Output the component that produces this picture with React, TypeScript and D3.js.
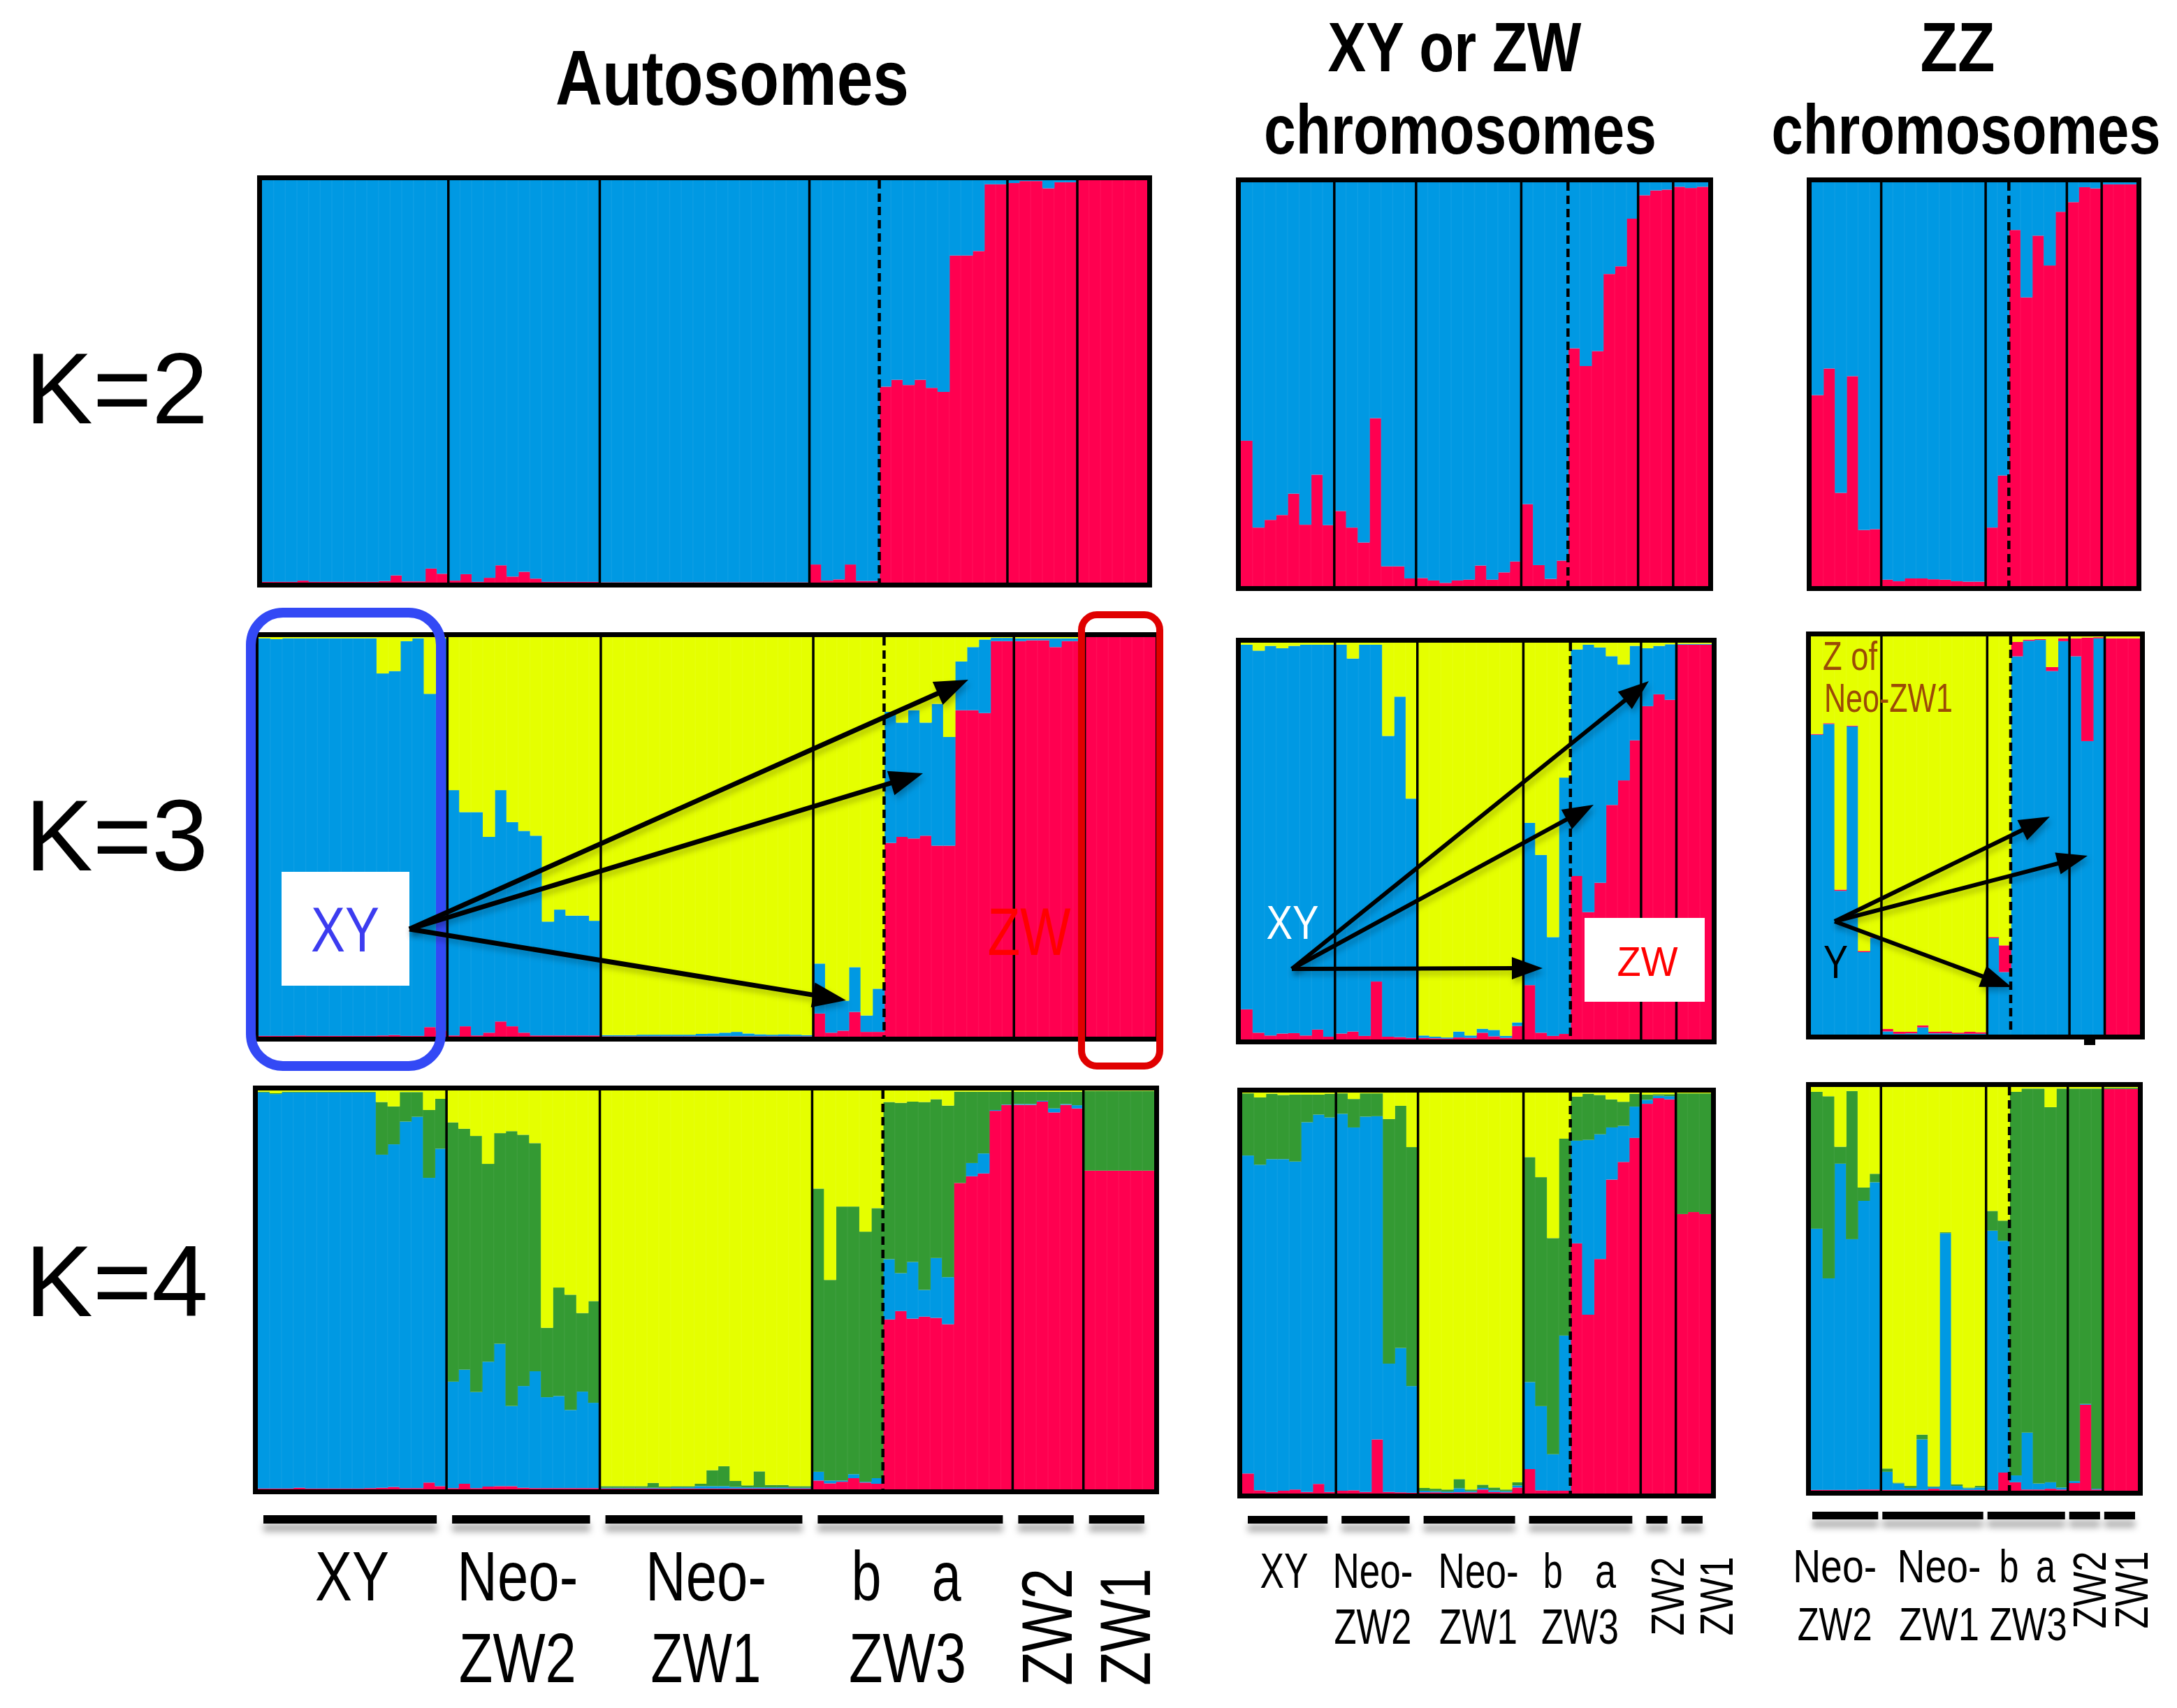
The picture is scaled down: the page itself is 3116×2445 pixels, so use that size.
import React from "react";
import * as d3 from "d3";

// cluster colours
const BLUE = "#0099e3";
const RED = "#ff0050";
const YELLOW = "#e5ff00";
const GREEN = "#349a33";

// populations (individuals per population, in plot order)
const AUTO_GROUPS = ["XY", "Neo-ZW2", "Neo-ZW1", "ZW3b", "ZW3a", "ZW2", "ZW1"];
const AUTO_SIZES = [16, 13, 18, 6, 11, 6, 6];
const XYZW_GROUPS = ["XY", "Neo-ZW2", "Neo-ZW1", "ZW3b", "ZW3a", "ZW2", "ZW1"];
const XYZW_SIZES = [8, 7, 9, 4, 6, 3, 3];
const ZZ_GROUPS = ["Neo-ZW2", "Neo-ZW1", "ZW3b", "ZW3a", "ZW2", "ZW1"];
const ZZ_SIZES = [6, 9, 2, 5, 3, 3];

const K_LABELS = ["K=2", "K=3", "K=4"];

// ---------- Autosomes ----------
const AUTO_K2_RED = [
  0.002, 0.002, 0.002, 0.005, 0.002, 0.002, 0.002, 0.002, 0.002, 0.002, 0.004, 0.018, 0.003, 0.003, 0.035, 0.022,
  0.005, 0.021, 0.002, 0.012, 0.043, 0.015, 0.027, 0.01, 0.002, 0.002, 0.002, 0.002, 0.002,
  0.001, 0.001, 0.001, 0.001, 0.001, 0.001, 0.001, 0.001, 0.001, 0.001, 0.001, 0.001, 0.001, 0.001, 0.001, 0.001, 0.001, 0.001,
  0.045, 0.005, 0.008, 0.045, 0.004, 0.004,
  0.487, 0.504, 0.491, 0.504, 0.484, 0.474, 0.813, 0.813, 0.824, 0.99, 0.99,
  0.993, 0.998, 0.998, 0.98, 0.995, 0.995,
  1, 1, 1, 1, 1, 1,
];

const AUTO_K3_RED = [
  0.002, 0.002, 0.002, 0.003, 0.002, 0.002, 0.002, 0.002, 0.002, 0.002, 0.003, 0.004, 0.002, 0.002, 0.024, 0.015,
  0.003, 0.026, 0.003, 0.01, 0.038, 0.026, 0.01, 0.003, 0.003, 0.003, 0.003, 0.003, 0.003,
  0.001, 0.001, 0.001, 0.001, 0.001, 0.001, 0.001, 0.001, 0.001, 0.001, 0.001, 0.001, 0.001, 0.001, 0.001, 0.001, 0.001, 0.001,
  0.058, 0.01, 0.015, 0.062, 0.012, 0.012,
  0.485, 0.5, 0.496, 0.503, 0.478, 0.478, 0.817, 0.817, 0.81, 0.99, 0.99,
  0.99, 0.992, 0.992, 0.975, 0.99, 0.99,
  1, 1, 1, 1, 1, 1,
];
const AUTO_K3_YELLOW = [
  0.003, 0.005, 0.003, 0.003, 0.003, 0.003, 0.003, 0.003, 0.003, 0.003, 0.091, 0.085, 0.01, 0.003, 0.142, 0.003,
  0.383, 0.438, 0.438, 0.5, 0.383, 0.463, 0.485, 0.497, 0.712, 0.682, 0.697, 0.697, 0.71,
  0.996, 0.996, 0.996, 0.995, 0.995, 0.995, 0.995, 0.995, 0.993, 0.992, 0.99, 0.988, 0.992, 0.994, 0.995, 0.994, 0.995, 0.996,
  0.817, 0.9, 0.91, 0.826, 0.947, 0.88,
  0.187, 0.214, 0.183, 0.214, 0.167, 0.25, 0.061, 0.025, 0.006, 0.002, 0.002,
  0.003, 0.003, 0.003, 0.003, 0.003, 0.003,
  0, 0, 0, 0, 0, 0,
];

const AUTO_K4_RED = [
  0.002, 0.002, 0.002, 0.004, 0.002, 0.002, 0.002, 0.002, 0.002, 0.003, 0.004, 0.006, 0.003, 0.003, 0.017, 0.008,
  0.003, 0.014, 0.003, 0.007, 0.008, 0.008, 0.004, 0.003, 0.003, 0.003, 0.003, 0.003, 0.003,
  0.002, 0.002, 0.002, 0.002, 0.002, 0.002, 0.002, 0.002, 0.002, 0.002, 0.002, 0.002, 0.002, 0.002, 0.002, 0.002, 0.002, 0.002,
  0.022, 0.015, 0.019, 0.028, 0.017, 0.014,
  0.426, 0.447, 0.428, 0.433, 0.43, 0.414, 0.768, 0.785, 0.792, 0.949, 0.964,
  0.964, 0.964, 0.972, 0.945, 0.964, 0.955,
  0.799, 0.799, 0.799, 0.799, 0.799, 0.799,
];
const AUTO_K4_BLUE = [
  0.993, 0.989, 0.993, 0.991, 0.993, 0.993, 0.993, 0.993, 0.993, 0.992, 0.835, 0.859, 0.919, 0.931, 0.764, 0.846,
  0.267, 0.286, 0.241, 0.313, 0.357, 0.201, 0.255, 0.293, 0.228, 0.231, 0.196, 0.242, 0.214,
  0.002, 0.002, 0.002, 0.002, 0.002, 0.002, 0.003, 0.003, 0.006, 0.006, 0.006, 0.004, 0.003, 0.003, 0.003, 0.003, 0.002, 0.002,
  0.022, 0.007, 0.003, 0.01, 0.002, 0.014,
  0.151, 0.095, 0.142, 0.067, 0.15, 0.118, 0, 0.033, 0.05, 0.002, 0.001,
  0.002, 0.002, 0.002, 0.01, 0.002, 0.008,
  0, 0, 0, 0, 0, 0,
];
const AUTO_K4_GREEN = [
  0.002, 0.002, 0.002, 0.002, 0.002, 0.002, 0.002, 0.002, 0.002, 0.002, 0.132, 0.095, 0.074, 0.062, 0.17, 0.125,
  0.65, 0.604, 0.642, 0.496, 0.528, 0.689, 0.63, 0.572, 0.174, 0.272, 0.289, 0.197, 0.255,
  0.004, 0.004, 0.004, 0.004, 0.012, 0.003, 0.003, 0.003, 0.006, 0.04, 0.05, 0.015, 0.005, 0.04, 0.006, 0.006, 0.004, 0.004,
  0.71, 0.503, 0.687, 0.671, 0.627, 0.677,
  0.394, 0.427, 0.402, 0.471, 0.398, 0.43, 0.229, 0.179, 0.155, 0.046, 0.032,
  0.031, 0.031, 0.023, 0.042, 0.031, 0.034,
  0.2, 0.2, 0.2, 0.2, 0.2, 0.2,
];

// ---------- XY or ZW chromosomes ----------
const XYZW_K2_RED = [
  0.36, 0.145, 0.164, 0.176, 0.229, 0.152, 0.276, 0.151,
  0.186, 0.145, 0.108, 0.416, 0.049, 0.049, 0.019,
  0.02, 0.014, 0.008, 0.014, 0.016, 0.051, 0.016, 0.034, 0.061,
  0.203, 0.052, 0.018, 0.063,
  0.589, 0.545, 0.582, 0.773, 0.792, 0.91,
  0.968, 0.98, 0.982,
  0.989, 0.986, 0.989,
];
const XYZW_K3_RED = [
  0.076, 0.017, 0.01, 0.015, 0.016, 0.01, 0.025, 0.007,
  0.015, 0.02, 0.009, 0.146, 0.007, 0.006, 0.004,
  0.004, 0.003, 0.002, 0.005, 0.004, 0.017, 0.008, 0.004, 0.034,
  0.137, 0.017, 0.009, 0.014,
  0.412, 0.321, 0.395, 0.591, 0.653, 0.754,
  0.84, 0.87, 0.856,
  0.995, 0.995, 0.995,
];
const XYZW_K3_BLUE = [
  0.919, 0.963, 0.982, 0.971, 0.976, 0.985, 0.97, 0.988,
  0.98, 0.94, 0.986, 0.849, 0.758, 0.858, 0.603,
  0.006, 0.004, 0.003, 0.015, 0.006, 0.01, 0.016, 0.005, 0.009,
  0.409, 0.448, 0.249, 0.646,
  0.571, 0.674, 0.593, 0.375, 0.292, 0.238,
  0.146, 0.122, 0.14,
  0.002, 0.002, 0.002,
];
const XYZW_K4_RED = [
  0.05, 0.008, 0.004, 0.007, 0.01, 0.004, 0.024, 0.004,
  0.007, 0.008, 0.004, 0.135, 0.004, 0.003, 0.002,
  0.003, 0.003, 0.002, 0.003, 0.003, 0.01, 0.004, 0.003, 0.015,
  0.061, 0.008, 0.007, 0.007,
  0.624, 0.446, 0.585, 0.783, 0.827, 0.887,
  0.972, 0.986, 0.983,
  0.697, 0.702, 0.697,
];
const XYZW_K4_BLUE = [
  0.793, 0.812, 0.83, 0.827, 0.818, 0.922, 0.921, 0.934,
  0.94, 0.905, 0.936, 0.806, 0.32, 0.36, 0.266,
  0.004, 0.003, 0.003, 0.01, 0.003, 0.004, 0.004, 0.003, 0.005,
  0.217, 0.21, 0.091, 0.387,
  0.256, 0.436, 0.311, 0.13, 0.09, 0.078,
  0.01, 0.006, 0.008,
  0, 0, 0,
];
const XYZW_K4_GREEN = [
  0.155, 0.168, 0.163, 0.16, 0.167, 0.069, 0.05, 0.059,
  0.051, 0.071, 0.058, 0.057, 0.61, 0.604, 0.596,
  0.007, 0.006, 0.005, 0.023, 0.004, 0.008, 0.007, 0.004, 0.008,
  0.561, 0.571, 0.539, 0.491,
  0.11, 0.115, 0.098, 0.07, 0.06, 0.032,
  0.013, 0.004, 0.005,
  0.301, 0.296, 0.301,
];

// ---------- ZZ chromosomes ----------
const ZZ_K2_RED = [
  0.473, 0.539, 0.231, 0.52, 0.139, 0.141,
  0.016, 0.012, 0.019, 0.019, 0.017, 0.016, 0.012, 0.011, 0.011,
  0.145, 0.274,
  0.882, 0.715, 0.868, 0.794, 0.927,
  0.951, 0.988, 0.985,
  0.995, 0.995, 0.995,
];
const ZZ_K3_BLUE = [
  0.753, 0.78, 0.361, 0.774, 0.207, 0.243,
  0.008, 0.002, 0.003, 0.018, 0.003, 0.003, 0.002, 0.002, 0.002,
  0.242, 0.157,
  0.95, 0.989, 0.991, 0.913, 0.988,
  0.95, 0.737, 0.995,
  0, 0, 0,
];
const ZZ_K3_RED = [
  0.002, 0.002, 0.003, 0.002, 0.003, 0.002,
  0.006, 0.005, 0.004, 0.005, 0.004, 0.005, 0.003, 0.005, 0.004,
  0.003, 0.067,
  0.036, 0.003, 0.002, 0.01, 0.007,
  0.045, 0.26, 0.003,
  0.995, 0.995, 0.995,
];
const ZZ_K4_RED = [
  0.002, 0.002, 0.002, 0.002, 0.003, 0.003,
  0.002, 0.002, 0.002, 0.002, 0.005, 0.002, 0.002, 0.002, 0.002,
  0.002, 0.045,
  0.021, 0.003, 0.003, 0.005, 0.003,
  0.019, 0.213, 0.003,
  0.995, 0.995, 0.995,
];
const ZZ_K4_BLUE = [
  0.647, 0.524, 0.808, 0.621, 0.715, 0.761,
  0.045, 0.016, 0.005, 0.125, 0.004, 0.636, 0.01, 0.004, 0.006,
  0.642, 0.574,
  0.017, 0.141, 0.015, 0.016, 0.005,
  0.005, 0.002, 0.002,
  0, 0, 0,
];
const ZZ_K4_GREEN = [
  0.339, 0.451, 0.042, 0.367, 0.033, 0.021,
  0.008, 0.002, 0.005, 0.012, 0.002, 0.002, 0.004, 0.002, 0.004,
  0.049, 0.05,
  0.95, 0.852, 0.978, 0.929, 0.988,
  0.972, 0.781, 0.991,
  0.003, 0.003, 0.003,
];

type Layer = { color: string; values: number[] | null }; // null = the remaining share
type Box = { x0: number; x1: number; y0: number; y1: number };

function bandScale(sizes: number[], box: Box) {
  const n = d3.sum(sizes);
  return d3.scaleBand<number>().domain(d3.range(n)).range([box.x0, box.x1]).padding(0);
}

function Panel({ box, sizes, groups, layers }: { box: Box; sizes: number[]; groups: string[]; layers: Layer[] }) {
  const x = bandScale(sizes, box);
  const y = d3.scaleLinear().domain([0, 1]).range([box.y1, box.y0]);
  const n = d3.sum(sizes);
  const keys = layers.map((_, k) => "k" + k);
  const rows = d3.range(n).map((i) => {
    const given = d3.sum(layers, (l) => (l.values ? l.values[i] : 0));
    const row: Record<string, number> = {};
    layers.forEach((l, k) => {
      row["k" + k] = l.values ? l.values[i] : Math.max(0, 1 - given);
    });
    return row;
  });
  const series = d3.stack<Record<string, number>>().keys(keys)(rows);
  const ends = Array.from(d3.cumsum(sizes)).slice(0, -1);
  const bw = x.bandwidth();

  return (
    <g>
      {series.map((s, k) => (
        <g key={k} fill={layers[k].color}>
          {s.map((d, i) => (
            <rect key={i} x={x(i)} y={y(d[1])} width={bw + 0.8} height={Math.max(0, y(d[0]) - y(d[1]))} />
          ))}
        </g>
      ))}
      {d3.range(1, n).map((i) => (
        <line key={"s" + i} x1={x(i)} x2={x(i)} y1={box.y0} y2={box.y1} stroke="#fff" strokeOpacity={0.05} strokeWidth={1.5} />
      ))}
      {ends.map((e, g) => {
        const dashed = groups[g] === "ZW3b";
        return (
          <line
            key={"g" + g}
            x1={x(e)}
            x2={x(e)}
            y1={box.y0}
            y2={box.y1}
            stroke="#000"
            strokeWidth={dashed ? 4.5 : 3.5}
            strokeDasharray={dashed ? "12 7" : undefined}
          />
        );
      })}
      <rect
        x={box.x0 - 3.5}
        y={box.y0 - 3.5}
        width={box.x1 - box.x0 + 7}
        height={box.y1 - box.y0 + 7}
        fill="none"
        stroke="#000"
        strokeWidth={7}
      />
    </g>
  );
}

type LabelCfg = {
  segY: number; segH: number; insetL: number; insetR: number;
  fs: number; row1: number; row2: number;
  rotCy: number; rotLen: number; rotFs: number;
  widths: Record<string, number>;
  dx: Record<string, number>;
  bOff: number; aOff: number;
};

function GroupLabels({ box, sizes, groups, cfg }: { box: Box; sizes: number[]; groups: string[]; cfg: LabelCfg }) {
  const x = bandScale(sizes, box);
  const bw = x.bandwidth();
  const starts = [0, ...Array.from(d3.cumsum(sizes))];
  const ext = groups.map((g, i) => ({ name: g, a: x(starts[i]) as number, b: (x(starts[i]) as number) + sizes[i] * bw }));
  // ZW3 "b" and "a" share one bar and one label
  const merged: { name: string; a: number; b: number }[] = [];
  ext.forEach((e) => {
    if (e.name === "ZW3a") merged[merged.length - 1].b = e.b;
    else merged.push({ name: e.name === "ZW3b" ? "ZW3" : e.name, a: e.a, b: e.b });
  });
  const T = (s: string, cx: number, yy: number) => (
    <text x={cx} y={yy} textAnchor="middle" fontSize={cfg.fs} textLength={cfg.widths[s]} lengthAdjust="spacingAndGlyphs">
      {s}
    </text>
  );
  return (
    <g>
      <g filter="url(#segShadow)">
        {merged.map((m) => (
          <rect key={m.name} x={m.a + cfg.insetL} y={cfg.segY} width={m.b - m.a - cfg.insetL - cfg.insetR} height={cfg.segH} fill="#000" />
        ))}
      </g>
      {merged.map((m) => {
        const c = (m.a + m.b) / 2;
        const cx = c + (cfg.dx[m.name] || 0);
        const w = m.b - m.a;
        if (m.name === "XY") return <g key={m.name}>{T("XY", cx, cfg.row1)}</g>;
        if (m.name === "Neo-ZW2" || m.name === "Neo-ZW1")
          return (
            <g key={m.name}>
              {T("Neo-", cx, cfg.row1)}
              {T(m.name.slice(4), cx, cfg.row2)}
            </g>
          );
        if (m.name === "ZW3")
          return (
            <g key={m.name}>
              {T("b", c + cfg.bOff * w, cfg.row1)}
              {T("a", c + cfg.aOff * w, cfg.row1)}
              {T("ZW3", cx, cfg.row2)}
            </g>
          );
        return (
          <text
            key={m.name}
            transform={`translate(${cx},${cfg.rotCy}) rotate(-90)`}
            textAnchor="middle"
            dy="0.36em"
            fontSize={cfg.rotFs}
            textLength={cfg.rotLen}
            lengthAdjust="spacingAndGlyphs"
          >
            {m.name}
          </text>
        );
      })}
    </g>
  );
}

function Arrow({ x1, y1, x2, y2, w, L, W }: { x1: number; y1: number; x2: number; y2: number; w: number; L: number; W: number }) {
  const dx = x2 - x1;
  const dy = y2 - y1;
  const len = Math.hypot(dx, dy);
  const ux = dx / len;
  const uy = dy / len;
  const bx = x2 - ux * L;
  const by = y2 - uy * L;
  const px = -uy * (W / 2);
  const py = ux * (W / 2);
  return (
    <g filter="url(#arrowShadow)">
      <line x1={x1} y1={y1} x2={bx + ux * 4} y2={by + uy * 4} stroke="#000" strokeWidth={w} />
      <polygon points={`${x2},${y2} ${bx + px},${by + py} ${bx - px},${by - py}`} fill="#000" />
    </g>
  );
}

// condensed bold title: natural glyphs squeezed horizontally by a transform
function Title({ x, y, size, sx, children }: { x: number; y: number; size: number; sx: number; children: string }) {
  return (
    <g transform={`translate(${x},${y}) scale(${sx},1)`}>
      <text textAnchor="middle" fontSize={size} fontWeight="bold">
        {children}
      </text>
    </g>
  );
}

const AUTO_BOXES: Box[] = [
  { x0: 375, x1: 1642, y0: 258, y1: 834 },
  { x0: 370, x1: 1654, y0: 912, y1: 1484 },
  { x0: 369, x1: 1652, y0: 1561, y1: 2132 },
];
const XYZW_BOXES: Box[] = [
  { x0: 1776, x1: 2445, y0: 261, y1: 839 },
  { x0: 1776, x1: 2450, y0: 920, y1: 1488 },
  { x0: 1778, x1: 2449, y0: 1564, y1: 2138 },
];
const ZZ_BOXES: Box[] = [
  { x0: 2593, x1: 3058, y0: 261, y1: 839 },
  { x0: 2592, x1: 3063, y0: 911, y1: 1481 },
  { x0: 2592, x1: 3060, y0: 1556, y1: 2134 },
];

const AUTO_LABELS: LabelCfg = {
  segY: 2169, segH: 12, insetL: 8, insetR: 14, fs: 100, row1: 2291, row2: 2408,
  rotCy: 2329, rotLen: 168, rotFs: 102,
  widths: { XY: 106, "Neo-": 173, ZW2: 168, ZW1: 158, ZW3: 168, b: 43, a: 42 },
  dx: { XY: 0, "Neo-ZW2": -8, "Neo-ZW1": 0, ZW3: -7, ZW2: -3, ZW1: 8 },
  bOff: -0.23, aOff: 0.17,
};
const XYZW_LABELS: LabelCfg = {
  segY: 2170, segH: 11, insetL: 8, insetR: 12, fs: 70, row1: 2273, row2: 2353,
  rotCy: 2285, rotLen: 113, rotFs: 66,
  widths: { XY: 69, "Neo-": 115, ZW2: 111, ZW1: 112, ZW3: 111, b: 28, a: 30 },
  dx: { XY: -7, "Neo-ZW2": -6, "Neo-ZW1": 11, ZW3: -3, ZW2: 13, ZW1: 32 },
  bOff: -0.248, aOff: 0.2,
};
const ZZ_LABELS: LabelCfg = {
  segY: 2164, segH: 11, insetL: 2, insetR: 4, fs: 66, row1: 2265, row2: 2348,
  rotCy: 2276, rotLen: 111, rotFs: 66,
  widths: { "Neo-": 120, ZW2: 107, ZW1: 115, ZW3: 111, b: 28, a: 28 },
  dx: { "Neo-ZW2": -16, "Neo-ZW1": 8, ZW3: 2, ZW2: 5, ZW1: 15 },
  bOff: -0.22, aOff: 0.23,
};

export default function App() {
  const autoLayers: Layer[][] = [
    [{ color: RED, values: AUTO_K2_RED }, { color: BLUE, values: null }],
    [{ color: RED, values: AUTO_K3_RED }, { color: BLUE, values: null }, { color: YELLOW, values: AUTO_K3_YELLOW }],
    [
      { color: RED, values: AUTO_K4_RED },
      { color: BLUE, values: AUTO_K4_BLUE },
      { color: GREEN, values: AUTO_K4_GREEN },
      { color: YELLOW, values: null },
    ],
  ];
  const xyzwLayers: Layer[][] = [
    [{ color: RED, values: XYZW_K2_RED }, { color: BLUE, values: null }],
    [{ color: RED, values: XYZW_K3_RED }, { color: BLUE, values: XYZW_K3_BLUE }, { color: YELLOW, values: null }],
    [
      { color: RED, values: XYZW_K4_RED },
      { color: BLUE, values: XYZW_K4_BLUE },
      { color: GREEN, values: XYZW_K4_GREEN },
      { color: YELLOW, values: null },
    ],
  ];
  const zzLayers: Layer[][] = [
    [{ color: RED, values: ZZ_K2_RED }, { color: BLUE, values: null }],
    [{ color: BLUE, values: ZZ_K3_BLUE }, { color: RED, values: ZZ_K3_RED }, { color: YELLOW, values: null }],
    [
      { color: RED, values: ZZ_K4_RED },
      { color: BLUE, values: ZZ_K4_BLUE },
      { color: GREEN, values: ZZ_K4_GREEN },
      { color: YELLOW, values: null },
    ],
  ];
  const kBaselines = [606, 1246, 1884];

  return (
    <div style={{ width: 3116, height: 2445, background: "#fff" }}>
      <style>{"html,body{margin:0;padding:0;overflow:hidden;background:#fff}"}</style>
      <svg width={3116} height={2445} viewBox="0 0 3116 2445" style={{ display: "block" }} fontFamily="'Liberation Sans', Arial, sans-serif">
        <defs>
          <filter id="segShadow" filterUnits="userSpaceOnUse" x="0" y="0" width="3116" height="2445">
            <feDropShadow dx="0" dy="12" stdDeviation="5" floodColor="#000" floodOpacity="0.3" />
          </filter>
          <filter id="arrowShadow" filterUnits="userSpaceOnUse" x="0" y="0" width="3116" height="2445">
            <feDropShadow dx="3" dy="6" stdDeviation="4" floodColor="#000" floodOpacity="0.25" />
          </filter>
        </defs>
        <rect width={3116} height={2445} fill="#fff" />

        {/* column titles */}
        <Title x={1048} y={150} size={112} sx={0.83}>Autosomes</Title>
        <Title x={2082} y={102} size={100} sx={0.82}>XY or ZW</Title>
        <Title x={2090} y={220} size={100} sx={0.822}>chromosomes</Title>
        <Title x={2802} y={102} size={100} sx={0.875}>ZZ</Title>
        <Title x={2814} y={220} size={100} sx={0.815}>chromosomes</Title>

        {/* K labels */}
        {K_LABELS.map((k, i) => (
          <text key={k} x={36} y={kBaselines[i]} fontSize={145} textLength={262} lengthAdjust="spacingAndGlyphs">
            {k}
          </text>
        ))}

        {AUTO_BOXES.map((b, i) => (
          <Panel key={"a" + i} box={b} sizes={AUTO_SIZES} groups={AUTO_GROUPS} layers={autoLayers[i]} />
        ))}
        {XYZW_BOXES.map((b, i) => (
          <Panel key={"x" + i} box={b} sizes={XYZW_SIZES} groups={XYZW_GROUPS} layers={xyzwLayers[i]} />
        ))}
        {ZZ_BOXES.map((b, i) => (
          <Panel key={"z" + i} box={b} sizes={ZZ_SIZES} groups={ZZ_GROUPS} layers={zzLayers[i]} />
        ))}

        <GroupLabels box={AUTO_BOXES[2]} sizes={AUTO_SIZES} groups={AUTO_GROUPS} cfg={AUTO_LABELS} />
        <GroupLabels box={XYZW_BOXES[2]} sizes={XYZW_SIZES} groups={XYZW_GROUPS} cfg={XYZW_LABELS} />
        <GroupLabels box={ZZ_BOXES[2]} sizes={ZZ_SIZES} groups={ZZ_GROUPS} cfg={ZZ_LABELS} />

        {/* annotations, autosomes K=3 */}
        <rect x={359} y={877} width={272} height={649} rx={46} fill="none" stroke="#3349f5" strokeWidth={14} />
        <rect x={1548} y={880} width={112} height={646} rx={22} fill="none" stroke="#e00000" strokeWidth={10} />
        <rect x={403} y={1248} width={183} height={163} fill="#fff" />
        <text x={494} y={1362} textAnchor="middle" fontSize={90} fill="#3c3cf0" textLength={98} lengthAdjust="spacingAndGlyphs">XY</text>
        <text x={1473} y={1367} textAnchor="middle" fontSize={96} fill="#ff0000" textLength={119} lengthAdjust="spacingAndGlyphs">ZW</text>
        <Arrow x1={586} y1={1330} x2={1386} y2={973} w={7} L={48} W={36} />
        <Arrow x1={586} y1={1330} x2={1321} y2={1107} w={7} L={48} W={36} />
        <Arrow x1={586} y1={1330} x2={1211} y2={1432} w={7} L={48} W={36} />

        {/* annotations, XY or ZW K=3 */}
        <text x={1850} y={1344} textAnchor="middle" fontSize={68} fill="#fff" textLength={75} lengthAdjust="spacingAndGlyphs">XY</text>
        <rect x={2268} y={1314} width={172} height={120} fill="#fff" />
        <text x={2358} y={1397} textAnchor="middle" fontSize={60} fill="#ff0000" textLength={87} lengthAdjust="spacingAndGlyphs">ZW</text>
        <Arrow x1={1849} y1={1387} x2={2360} y2={975} w={6} L={44} W={32} />
        <Arrow x1={1849} y1={1387} x2={2281} y2={1152} w={6} L={44} W={32} />
        <Arrow x1={1849} y1={1387} x2={2208} y2={1386} w={6} L={44} W={32} />

        {/* annotations, ZZ K=3 */}
        <text x={2609} y={959} fontSize={57} fill="#9b4a06" textLength={78} lengthAdjust="spacingAndGlyphs">Z of</text>
        <text x={2611} y={1019} fontSize={57} fill="#9b4a06" textLength={184} lengthAdjust="spacingAndGlyphs">Neo-ZW1</text>
        <text x={2610} y={1400} fontSize={67} fill="#000" textLength={35} lengthAdjust="spacingAndGlyphs">Y</text>
        <Arrow x1={2626} y1={1319} x2={2934} y2={1169} w={6} L={44} W={32} />
        <Arrow x1={2626} y1={1319} x2={2988} y2={1225} w={6} L={44} W={32} />
        <Arrow x1={2626} y1={1319} x2={2879} y2={1413} w={6} L={44} W={32} />
        <rect x={2983} y={1486} width={16} height={10} fill="#000" />
      </svg>
    </div>
  );
}
